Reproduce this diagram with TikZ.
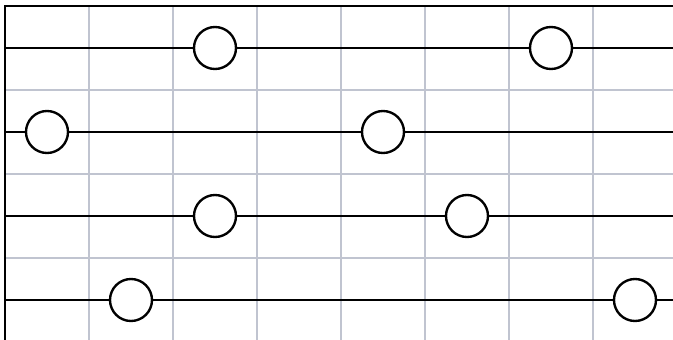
\documentclass[tikz,border=0pt]{standalone}
\definecolor{gridgray}{RGB}{192,196,208}

\begin{document}
\begin{tikzpicture}[x=1cm,y=1cm,
    peg/.style={circle,draw,line width=0.8pt,fill=white,minimum size=0.5cm,inner sep=0pt},
    rail/.style={line width=0.8pt},
    gridline/.style={gridgray,line width=0.4pt}]
  \useasboundingbox (-0.0595,0.0357) rectangle (7.9524,4.0714);

  % Light grid, one unit per cell.
  \foreach \i in {1,...,7} {
    \draw[gridline] (\i,-0.1) -- (\i,4);
  }
  \foreach \j in {1,2,3} {
    \draw[gridline] (0,\j) -- (8.1,\j);
  }

  % Frame on the left and on top.
  \draw[rail] (0,-0.1) -- (0,4) -- (8.1,4);

  % Four rails, two pegs on each.
  \foreach \r/\y/\p/\q in {1/3.5/2.5/6.5, 2/2.5/0.5/4.5, 3/1.5/2.5/5.5, 4/0.5/1.5/7.5} {
    \coordinate (l\r) at (0,\y);
    \coordinate (r\r) at (8.1,\y);
    \node[peg] (p\r) at (\p,\y) {};
    \node[peg] (q\r) at (\q,\y) {};
    \draw[rail] (l\r) -- (p\r) -- (q\r) -- (r\r);
  }
\end{tikzpicture}
\end{document}
